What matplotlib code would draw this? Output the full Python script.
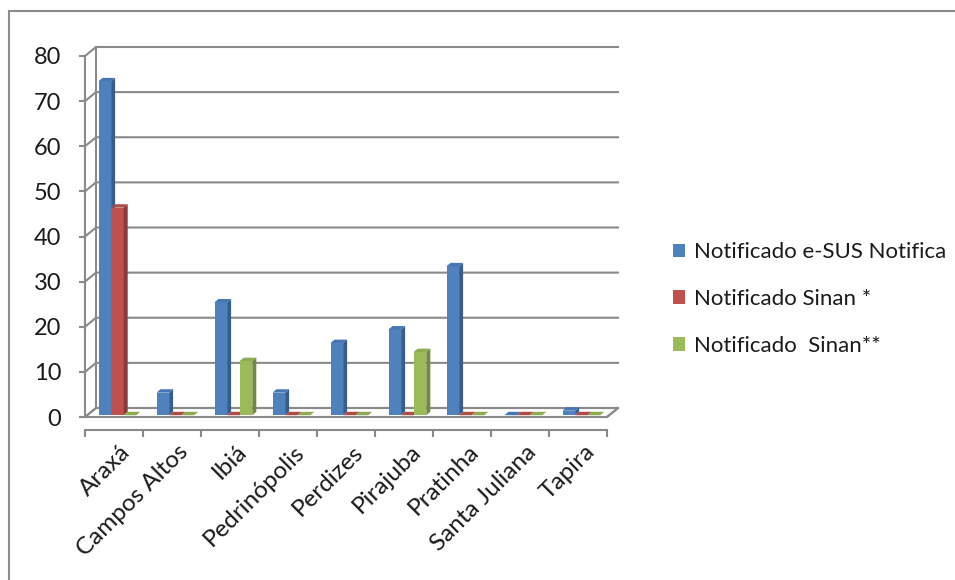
import matplotlib
matplotlib.use('Agg')
import matplotlib.pyplot as plt
from matplotlib.patches import Polygon, Rectangle

categories = ['Araxá', 'Campos Altos', 'Ibiá', 'Pedrinópolis', 'Perdizes',
              'Pirajuba', 'Pratinha', 'Santa Juliana', 'Tapira']
esus = [74, 5, 25, 5, 16, 19, 33, 0, 1]
sinan1 = [46, 0, 0, 0, 0, 0, 0, 0, 0]
sinan2 = [0, 0, 12, 0, 0, 14, 0, 0, 0]
series_names = ['Notificado e-SUS Notifica', 'Notificado Sinan *', 'Notificado  Sinan**']
yticks = [0, 10, 20, 30, 40, 50, 60, 70, 80]

FONT = 'Lato'
FS = 16
plt.rcParams['font.family'] = [FONT, 'DejaVu Sans']

W, H = 955, 580
fig = plt.figure(figsize=(W / 100, H / 100), dpi=100)

# pixel mapping: front x px = 85 + 58*u ; front y px = 417 - 4.5125*v
px_u, px_v = 58.0, 4.5125
x0px, y0px = 85, 417
left_px, right_px, top_px, bot_px = 85, 640, 30, 430
ax = fig.add_axes([left_px / W, (H - bot_px) / H, (right_px - left_px) / W, (bot_px - top_px) / H])
ax.set_xlim(0, (right_px - x0px) / px_u)
ax.set_ylim((y0px - bot_px) / px_v, (y0px - top_px) / px_v)
ax.patch.set_visible(False)

n = len(categories)
du, dv = 11 / px_u, 9 / px_v          # wall depth
bdu, bdv = 4 / px_u, 3.4 / px_v       # bar depth
grid_c = '#8a8a8a'
lw = 1.5

# floor
ax.add_patch(Polygon([(0, 0), (n, 0), (n + du, dv), (du, dv)], closed=True,
                     facecolor='white', edgecolor=grid_c, lw=lw, zorder=1))
# back wall gridlines + side wall diagonals
top = max(yticks)
for v in yticks:
    ax.plot([0, du, n + du], [v, v + dv, v + dv], color=grid_c, lw=lw, zorder=1,
            solid_joinstyle='miter')
ax.plot([du, du], [dv, top + dv], color=grid_c, lw=lw, zorder=1)

# spines / ticks
for s in ['top', 'right']:
    ax.spines[s].set_visible(False)
ax.spines['left'].set_bounds(0, top)
ax.spines['bottom'].set_bounds(0, n)
for s in ['left', 'bottom']:
    ax.spines[s].set_color(grid_c)
    ax.spines[s].set_linewidth(lw)
    ax.spines[s].set_zorder(2)
ax.set_yticks(yticks)
ax.set_yticklabels([str(v) for v in yticks], fontsize=17, color='#1a1a1a')
ax.tick_params(axis='y', length=4, width=lw, color=grid_c, pad=13)
ax.set_xticks(range(n + 1))
ax.set_xticklabels([''] * (n + 1))
ax.tick_params(axis='x', which='major', length=5, width=lw, color=grid_c)
ax.set_xticks([i + 0.6 for i in range(n)], minor=True)
ax.set_xticklabels(categories, minor=True, rotation=45, ha='right', va='top',
                   rotation_mode='anchor', fontsize=17.5, color='#1a1a1a')
ax.tick_params(axis='x', which='minor', length=0, pad=8)

# bars
off, w = 12.5 / px_u, 12.6 / px_u
base_u, base_v = 1.0 / px_u, 1.8 / px_v
front_c = ['#4F81BD', '#C0504D', '#9BBB59']
side_c = ['#385D8A', '#8C3A38', '#71893F']
top_c = ['#4677B3', '#B14A47', '#8DAC50']
handles = []
for j, vals in enumerate([esus, sinan1, sinan2]):
    xs = [i + off + base_u + j * w for i in range(n)]
    bars = ax.bar(xs, vals, width=w, bottom=base_v, align='edge', color=front_c[j],
                  edgecolor='none', zorder=5 + 3 * j, label=series_names[j])
    handles.append(bars)
    for r in bars:
        x, y, ww, hh = r.get_x(), r.get_y(), r.get_width(), r.get_height()
        ax.add_patch(Polygon([(x + ww, y), (x + ww + bdu, y + bdv), (x + ww + bdu, y + hh + bdv),
                              (x + ww, y + hh)], closed=True, facecolor=side_c[j],
                             edgecolor='none', zorder=5 + 3 * j + 1))
        ax.add_patch(Polygon([(x, y + hh), (x + ww, y + hh), (x + ww + bdu, y + hh + bdv),
                              (x + bdu, y + hh + bdv)], closed=True, facecolor=top_c[j],
                             edgecolor='none', zorder=5 + 3 * j + 2))

# right floor edge
ax.plot([n, n + du], [0, dv], color=grid_c, lw=lw, zorder=2)

# legend
leg = fig.legend(handles=handles, labels=series_names, loc='center left',
                 bbox_to_anchor=(673 / W, 1 - 299 / H), frameon=False, fontsize=FS,
                 handlelength=0.55, handleheight=0.55, handletextpad=0.4,
                 labelspacing=1.2, borderaxespad=0, borderpad=0)
for t in leg.get_texts():
    t.set_color('#1a1a1a')

# outer border
fig.add_artist(Rectangle((9 / W, -0.1), 2, 1.1 - 11 / H, transform=fig.transFigure,
                         fill=False, edgecolor='#8c8c8c', lw=1.5))

fig.savefig('out.png', dpi=100)
